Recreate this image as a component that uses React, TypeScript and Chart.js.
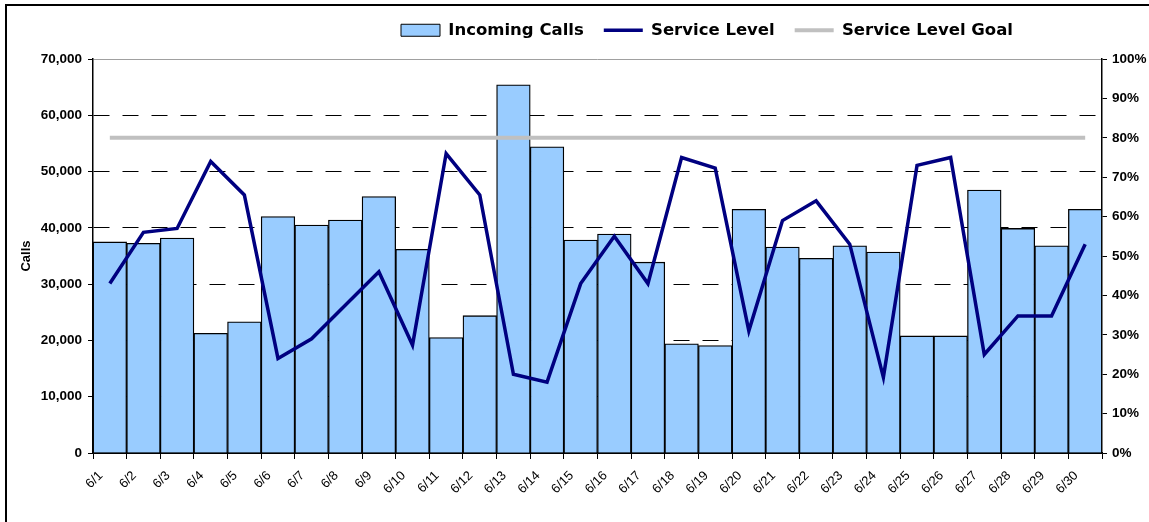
import { useEffect, useRef } from 'react';
import { Chart, registerables } from 'chart.js';

Chart.register(...registerables);

const DAYS = ['6/1', '6/2', '6/3', '6/4', '6/5', '6/6', '6/7', '6/8', '6/9', '6/10', '6/11', '6/12', '6/13', '6/14', '6/15', '6/16', '6/17', '6/18', '6/19', '6/20', '6/21', '6/22', '6/23', '6/24', '6/25', '6/26', '6/27', '6/28', '6/29', '6/30'];

const SERIES_NAMES = ['Incoming Calls', 'Service Level', 'Service Level Goal'];

const INCOMING_CALLS = [37500, 37250, 38200, 21250, 23300, 42000, 40500, 41400, 45550, 36200, 20500, 24400, 65400, 54400, 37850, 38900, 33900, 19400, 19100, 43300, 36600, 34600, 36800, 35700, 20800, 20800, 46700, 39900, 36800, 43300];

const SERVICE_LEVEL = [43, 56, 57, 74, 65.5, 24, 29, 37.5, 46, 27.4, 76, 65.5, 20, 18, 43, 55, 43, 75, 72.3, 31, 59, 64, 53, 19.2, 73, 75, 25, 34.8, 34.8, 53];

const SERVICE_LEVEL_GOAL = [80, 80, 80, 80, 80, 80, 80, 80, 80, 80, 80, 80, 80, 80, 80, 80, 80, 80, 80, 80, 80, 80, 80, 80, 80, 80, 80, 80, 80, 80];

const CALLS_TICKS = { min: 0, max: 70000, step: 10000 };
const PCT_TICKS = { min: 0, max: 100, step: 10 };

const W = 1149;
const H = 522;
const LEGEND_H = 59;
const LEGEND_CENTER_X = 707;

const BAR_FILL = '#99CCFF';
const LINE_COLOR = '#000080';
const GOAL_COLOR = '#C0C0C0';

const helperPlugin = {
  id: 'excelLook',
  beforeLayout(chart: any) {
    const lg = chart.legend;
    if (lg && !lg.__patched) {
      const orig = lg.fit;
      lg.fit = function () {
        orig.call(this);
        this.height = LEGEND_H;
      };
      lg.__patched = true;
    }
  },
  beforeDraw(chart: any) {
    const lg = chart.legend;
    if (lg) {
      lg.left = 2 * LEGEND_CENTER_X - lg.right;
      lg.top = 2;
    }
  },
  afterDraw(chart: any) {
    const ctx = chart.ctx;
    ctx.save();
    ctx.strokeStyle = '#000';
    ctx.lineWidth = 2;
    ctx.beginPath();
    ctx.moveTo(6, chart.height);
    ctx.lineTo(6, 5);
    ctx.lineTo(chart.width, 5);
    ctx.stroke();
    ctx.restore();
  },
};

export default function App() {
  const ref = useRef<HTMLCanvasElement | null>(null);

  useEffect(() => {
    if (!ref.current) return;
    const tickFont = { family: 'Liberation Sans, Arial, sans-serif', weight: 'bold' as const, size: 13.5 };
    const chart = new Chart(ref.current, {
      type: 'bar',
      data: {
        labels: DAYS,
        datasets: [
          {
            type: 'bar',
            label: SERIES_NAMES[0],
            data: INCOMING_CALLS,
            backgroundColor: BAR_FILL,
            borderColor: '#000',
            borderWidth: 1.3,
            categoryPercentage: 1,
            barPercentage: 1,
            yAxisID: 'y',
            order: 3,
          } as any,
          {
            type: 'line',
            label: SERIES_NAMES[1],
            data: SERVICE_LEVEL,
            borderColor: LINE_COLOR,
            backgroundColor: LINE_COLOR,
            borderWidth: 3.5,
            pointRadius: 0,
            tension: 0,
            yAxisID: 'y1',
            order: 1,
          } as any,
          {
            type: 'line',
            label: SERIES_NAMES[2],
            data: SERVICE_LEVEL_GOAL,
            borderColor: GOAL_COLOR,
            backgroundColor: GOAL_COLOR,
            borderWidth: 4,
            pointRadius: 0,
            tension: 0,
            yAxisID: 'y1',
            order: 2,
          } as any,
        ],
      },
      options: {
        responsive: false,
        animation: false,
        events: [],
        layout: { padding: 0 },
        plugins: {
          tooltip: { enabled: false },
          legend: {
            display: true,
            position: 'top',
            align: 'center',
            labels: {
              usePointStyle: true,
              pointStyleWidth: 39,
              boxWidth: 39,
              boxHeight: 12,
              padding: 20,
              color: '#000',
              font: { family: 'DejaVu Sans, Verdana, sans-serif', weight: 'bold', size: 16.5 },
              generateLabels: (c: any) =>
                c.data.datasets.map((ds: any, i: number) => ({
                  text: ds.label,
                  fillStyle: i === 0 ? BAR_FILL : ds.borderColor,
                  strokeStyle: i === 0 ? '#000' : ds.borderColor,
                  lineWidth: i === 0 ? 1 : ds.borderWidth,
                  pointStyle: i === 0 ? 'rect' : 'line',
                  datasetIndex: i,
                  hidden: false,
                  fontColor: '#000',
                })),
            },
          },
        },
        scales: {
          x: {
            type: 'category',
            offset: true,
            grid: {
              offset: true,
              drawOnChartArea: false,
              drawTicks: true,
              tickLength: 6,
              color: '#000',
              tickColor: '#000',
            },
            border: { color: '#000', width: 1.5 },
            ticks: {
              autoSkip: false,
              maxRotation: 45,
              minRotation: 45,
              labelOffset: -9,
              padding: 9,
              color: '#000',
              font: { family: 'Liberation Sans, Arial, sans-serif', size: 13 },
            },
            afterFit: (s: any) => {
              s.height = 69;
            },
          },
          y: {
            type: 'linear',
            position: 'left',
            min: CALLS_TICKS.min,
            max: CALLS_TICKS.max,
            ticks: {
              stepSize: CALLS_TICKS.step,
              padding: 6,
              color: '#000',
              font: tickFont,
              callback: (v: any) => Number(v).toLocaleString('en-US'),
            },
            grid: {
              color: (ctx: any) => (ctx.tick && ctx.tick.value === CALLS_TICKS.max ? '#A0A0A0' : '#000'),
              lineWidth: 1,
              tickLength: 5,
              tickColor: '#000',
              drawTicks: true,
            },
            border: {
              color: '#000',
              width: 1.5,
              dash: (ctx: any) =>
                ctx.tick && (ctx.tick.value === CALLS_TICKS.max || ctx.tick.value === CALLS_TICKS.min) ? [] : [16, 13],
            },
            title: {
              display: true,
              text: 'Calls',
              color: '#000',
              font: { family: 'Liberation Sans, Arial, sans-serif', weight: 'bold', size: 13 },
              padding: { top: 19, bottom: 0 },
            },
            afterFit: (s: any) => {
              s.width = 93;
            },
          },
          y1: {
            type: 'linear',
            position: 'right',
            min: PCT_TICKS.min,
            max: PCT_TICKS.max,
            ticks: {
              stepSize: PCT_TICKS.step,
              padding: 5,
              color: '#000',
              font: tickFont,
              callback: (v: any) => `${v}%`,
            },
            grid: {
              drawOnChartArea: false,
              tickLength: 5,
              color: '#000',
              tickColor: '#000',
            },
            border: { color: '#000', width: 1.5 },
            afterFit: (s: any) => {
              s.width = 47;
            },
          },
        },
      } as any,
      plugins: [helperPlugin],
    });
    return () => chart.destroy();
  }, []);

  return (
    <div style={{ position: 'absolute', left: 0, top: 0, width: W, height: H, background: '#fff' }}>
      <canvas ref={ref} width={W} height={H} style={{ display: 'block' }} />
    </div>
  );
}
